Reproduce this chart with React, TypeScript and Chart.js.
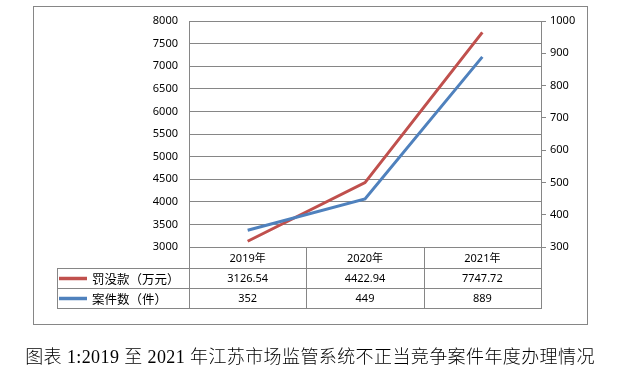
import React, { useEffect, useRef } from "react";
import { Chart, registerables } from "chart.js";

Chart.register(...registerables);

const categories = ["2019年", "2020年", "2021年"];
const finesLabel = "罚没款（万元）";
const casesLabel = "案件数（件）";
const fines = [3126.54, 4422.94, 7747.72];
const cases = [352, 449, 889];
const finesText = ["3126.54", "4422.94", "7747.72"];
const casesText = ["352", "449", "889"];
const caption = "图表 1:2019 至 2021 年江苏市场监管系统不正当竞争案件年度办理情况";

const RED = "#C0504D";
const BLUE = "#4F81BD";
const GRID = "#868686";
const W = 624;
const H = 376;

const tablePlugin = {
  id: "dataTable",
  afterDraw(chart: any) {
    const ctx = chart.ctx;
    const area = chart.chartArea;
    const x = chart.scales.x;
    const n = categories.length;
    const band = (area.right - area.left) / n;
    const top = area.bottom;
    const r1 = top + 21;
    const r2 = r1 + 20;
    const r3 = r2 + 20;
    const tableLeft = 57;
    ctx.save();
    ctx.strokeStyle = GRID;
    ctx.lineWidth = 1;
    ctx.strokeRect(33.5, 6.5, 554, 318);
    ctx.beginPath();
    [r1, r2, r3].forEach((y) => {
      ctx.moveTo(tableLeft, Math.round(y) + 0.5);
      ctx.lineTo(area.right + 1, Math.round(y) + 0.5);
    });
    ctx.moveTo(tableLeft + 0.5, r1);
    ctx.lineTo(tableLeft + 0.5, r3);
    for (let i = 0; i <= n; i++) {
      const xx = Math.round(area.left + i * band) + 0.5;
      ctx.moveTo(xx, top);
      ctx.lineTo(xx, r3);
    }
    ctx.stroke();
    ctx.fillStyle = "#000";
    ctx.textAlign = "center";
    ctx.textBaseline = "middle";
    ctx.font = '11px "Noto Sans", "Noto Sans CJK SC", sans-serif';
    for (let i = 0; i < n; i++) {
      const cx = x.getPixelForValue(i);
      ctx.fillText(categories[i], cx, (top + r1) / 2 + 1);
      ctx.fillText(finesText[i], cx, (r1 + r2) / 2 + 1);
      ctx.fillText(casesText[i], cx, (r2 + r3) / 2 + 1);
    }
    const keys = [
      { label: finesLabel, color: RED, y: (r1 + r2) / 2 + 0.5 },
      { label: casesLabel, color: BLUE, y: (r2 + r3) / 2 + 0.5 },
    ];
    ctx.textAlign = "left";
    ctx.font = '12.5px "Noto Sans CJK SC", sans-serif';
    keys.forEach((k) => {
      ctx.strokeStyle = k.color;
      ctx.lineWidth = 3.5;
      ctx.beginPath();
      ctx.moveTo(59, k.y);
      ctx.lineTo(87, k.y);
      ctx.stroke();
      ctx.fillText(k.label, 92, k.y + 0.5);
    });
    ctx.restore();
  },
};

export default function App() {
  const ref = useRef<HTMLCanvasElement | null>(null);
  useEffect(() => {
    document.body.style.margin = "0";
    const tickFont = { family: '"Noto Sans", sans-serif', size: 11 };
    const plain = (v: any) => String(v);
    const chart = new Chart(ref.current as HTMLCanvasElement, {
      type: "line",
      data: {
        labels: categories,
        datasets: [
          {
            label: finesLabel,
            data: fines,
            yAxisID: "y",
            borderColor: RED,
            backgroundColor: RED,
            borderWidth: 3,
            pointRadius: 0,
            tension: 0,
            order: 1,
          },
          {
            label: casesLabel,
            data: cases,
            yAxisID: "y1",
            borderColor: BLUE,
            backgroundColor: BLUE,
            borderWidth: 3,
            pointRadius: 0,
            tension: 0,
            order: 0,
          },
        ],
      },
      options: {
        animation: false,
        responsive: false,
        maintainAspectRatio: false,
        layout: { padding: { top: 21, bottom: H - 247, left: 0, right: 0 } },
        plugins: { legend: { display: false }, tooltip: { enabled: false } },
        scales: {
          x: { type: "category", offset: true, display: false },
          y: {
            position: "left",
            min: 3000,
            max: 8000,
            ticks: { stepSize: 500, color: "#000", font: tickFont, padding: 11, callback: plain },
            grid: { color: GRID, drawTicks: false, tickLength: 0 },
            border: { display: true, color: GRID },
            afterFit: (s: any) => {
              s.width = 189;
            },
          },
          y1: {
            position: "right",
            min: 300,
            max: 1000,
            ticks: { stepSize: 100, color: "#000", font: tickFont, padding: 4, callback: plain },
            grid: { drawOnChartArea: false, color: GRID, tickLength: 5 },
            border: { display: true, color: GRID },
            afterFit: (s: any) => {
              s.width = W - 541;
            },
          },
        },
      },
      plugins: [tablePlugin],
    });
    return () => chart.destroy();
  }, []);
  return (
    <div style={{ position: "relative", width: W, height: H, background: "#fff" }}>
      <canvas ref={ref} width={W} height={H} style={{ position: "absolute", left: 0, top: 0, width: W, height: H }} />
      <div
        style={{
          position: "absolute",
          left: 0,
          top: 346,
          width: 620,
          textAlign: "center",
          fontFamily: '"Liberation Serif", "Noto Sans CJK SC", serif',
          fontSize: 18,
          fontWeight: 300,
          letterSpacing: 0.4,
          lineHeight: "22px",
          color: "#000",
          whiteSpace: "nowrap",
        }}
      >
        {caption}
      </div>
    </div>
  );
}
